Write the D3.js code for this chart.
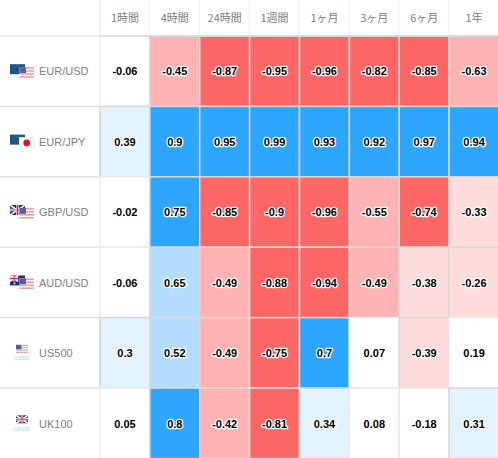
<!DOCTYPE html>
<html><head><meta charset="utf-8">
<script src="https://cdn.jsdelivr.net/npm/d3@7"></script>
<style>html,body{margin:0;padding:0;background:#fff;overflow:hidden}svg{display:block}</style>
</head><body><div id="c"></div>
<script>
const periods = ["1時間","4時間","24時間","1週間","1ヶ月","3ヶ月","6ヶ月","1年"];
const symbols = ["EUR/USD","EUR/JPY","GBP/USD","AUD/USD","US500","UK100"];
const eurusd = [-0.06,-0.45,-0.87,-0.95,-0.96,-0.82,-0.85,-0.63];
const eurjpy = [0.39,0.9,0.95,0.99,0.93,0.92,0.97,0.94];
const gbpusd = [-0.02,0.75,-0.85,-0.9,-0.96,-0.55,-0.74,-0.33];
const audusd = [-0.06,0.65,-0.49,-0.88,-0.94,-0.49,-0.38,-0.26];
const us500 = [0.3,0.52,-0.49,-0.75,0.7,0.07,-0.39,0.19];
const uk100 = [0.05,0.8,-0.42,-0.81,0.34,0.08,-0.18,0.31];
const rows = [eurusd,eurjpy,gbpusd,audusd,us500,uk100];
const flagKinds = [["eu","us"],["eu","jp"],["gb","us"],["au","us"],["us"],["gb"]];
const thresholds = [-0.7,-0.4,-0.2,0.2,0.4,0.7];
const palette = ["#ff6666","#ffb3b3","#ffdddd","#ffffff","#e3f2ff","#b3dcff","#2ca6ff"];

const W=498,H=458;
const svg=d3.select("#c").append("svg").attr("width",W).attr("height",H);
const x=d3.scaleBand().domain(periods).range([100,W+1]);
const y=d3.scaleBand().domain(symbols).range([36,H+0.5]);
const color=d3.scaleThreshold().domain(thresholds).range(palette);
const font="Arial,'Liberation Sans',sans-serif";

// header
svg.selectAll("text.h").data(periods).join("text").attr("class","h")
  .attr("x",d=>x(d)+x.bandwidth()/2).attr("y",18).attr("dy","0.35em")
  .attr("text-anchor","middle").attr("fill","#808080").attr("font-size",11)
  .attr("font-family","'Noto Sans CJK JP',"+font).text(d=>d);
svg.selectAll("line.hv").data(periods).join("line").attr("class","hv")
  .attr("x1",d=>x(d)-0.5).attr("x2",d=>x(d)-0.5).attr("y1",0).attr("y2",35).attr("stroke","#efefef");
// row lines in the label column
svg.selectAll("line.r").data(symbols).join("line").attr("class","r")
  .attr("x1",0).attr("x2",100).attr("y1",d=>y(d)).attr("y2",d=>y(d))
  .attr("stroke","#dddddd").attr("stroke-width",1.2);

// cells
const g=svg.selectAll("g.row").data(rows).join("g").attr("class","row")
  .attr("transform",(d,i)=>`translate(0,${y(symbols[i])})`);
g.selectAll("rect").data(d=>d).join("rect")
  .attr("x",(d,i)=>x(periods[i])).attr("y",0)
  .attr("width",x.bandwidth()).attr("height",y.bandwidth())
  .attr("fill",d=>color(d)).attr("stroke",d=>Math.abs(d)<0.2?"#ebebeb":"#d8d8d8").attr("stroke-width",1.5);
g.selectAll("text").data(d=>d).join("text")
  .attr("x",(d,i)=>x(periods[i])+x.bandwidth()/2).attr("y",y.bandwidth()/2+0.4).attr("dy","0.35em")
  .attr("text-anchor","middle").attr("font-size",11).attr("font-weight","bold")
  .attr("font-family",font).attr("fill","#000")
  .attr("stroke","#fff").attr("stroke-width",2.5).attr("paint-order","stroke").attr("stroke-linejoin","round")
  .text(d=>d);
svg.append("line").attr("x1",100).attr("x2",W).attr("y1",36).attr("y2",36).attr("stroke","#d5dae6").attr("stroke-width",1.5);

// labels
svg.selectAll("text.l").data(symbols).join("text").attr("class","l")
  .attr("x",39).attr("y",d=>y(d)+y.bandwidth()/2+0.4).attr("dy","0.35em")
  .attr("fill","#808080").attr("font-size",11).attr("font-family",font).text(d=>d);

// flags
function flag(sel,kind,w,h){
  const a=sel.append("g");
  const r=(x,y,wd,ht,f,o)=>a.append("rect").attr("x",x).attr("y",y).attr("width",wd).attr("height",ht).attr("fill",f).attr("opacity",o==null?1:o);
  if(kind==="eu"){r(0,0,w,h,"#14568c");a.append("circle").attr("cx",w*.45).attr("cy",h/2).attr("r",h*.32).attr("fill","none").attr("stroke","#4f8a5c").attr("stroke-dasharray","1 1");}
  if(kind==="us"){r(0,0,w,h,"#fff");for(let i=0;i<4;i++)r(0,i*h/3.5,w,h/7,"#eb9a9f");r(0,0,w*.45,h*.55,"#5a5c9c");}
  if(kind==="jp"){r(0,0,w,h,"#fff").attr("stroke","#eeeeee");a.append("circle").attr("cx",w/2).attr("cy",h/2).attr("r",h*.32).attr("fill","#e8112d");}
  if(kind==="gb"||kind==="au"){
    const fw=kind==="gb"?w:w*.55,fh=kind==="gb"?h:h*.6;
    r(0,0,w,h,"#1d2f7f");
    a.append("path").attr("d",`M0 0L${fw} ${fh}M${fw} 0L0 ${fh}`).attr("stroke","#fff").attr("stroke-width",1.6);
    a.append("path").attr("d",`M${fw/2} 0V${fh}M0 ${fh/2}H${fw}`).attr("stroke","#fff").attr("stroke-width",2.4);
    a.append("path").attr("d",`M${fw/2} 0V${fh}M0 ${fh/2}H${fw}`).attr("stroke","#d8203a").attr("stroke-width",1.1);
    if(kind==="au"){a.append("circle").attr("cx",w*.7).attr("cy",h*.4).attr("r",.8).attr("fill","#fff");a.append("circle").attr("cx",w*.3).attr("cy",h*.8).attr("r",.9).attr("fill","#fff");}
  }
  return a;
}
symbols.forEach((s,i)=>{
  const cy=y(s)+y.bandwidth()/2;
  const k=flagKinds[i];
  const g=svg.append("g").attr("transform",`translate(0,${cy})`);
  if(k.length===2){
    flag(g,k[0],15,10).attr("transform","translate(10,-7)");
    flag(g,k[1],14.5,10.5).attr("transform","translate(19.5,-4)");
  } else {
    flag(g,k[0],12,8).attr("transform","translate(16,-8)");
    g.append("text").attr("x",22).attr("y",7.5).attr("text-anchor","middle").attr("font-size",5)
      .attr("font-family",font).attr("fill","#8fdcf5").text(s);
  }
});
</script></body></html>
